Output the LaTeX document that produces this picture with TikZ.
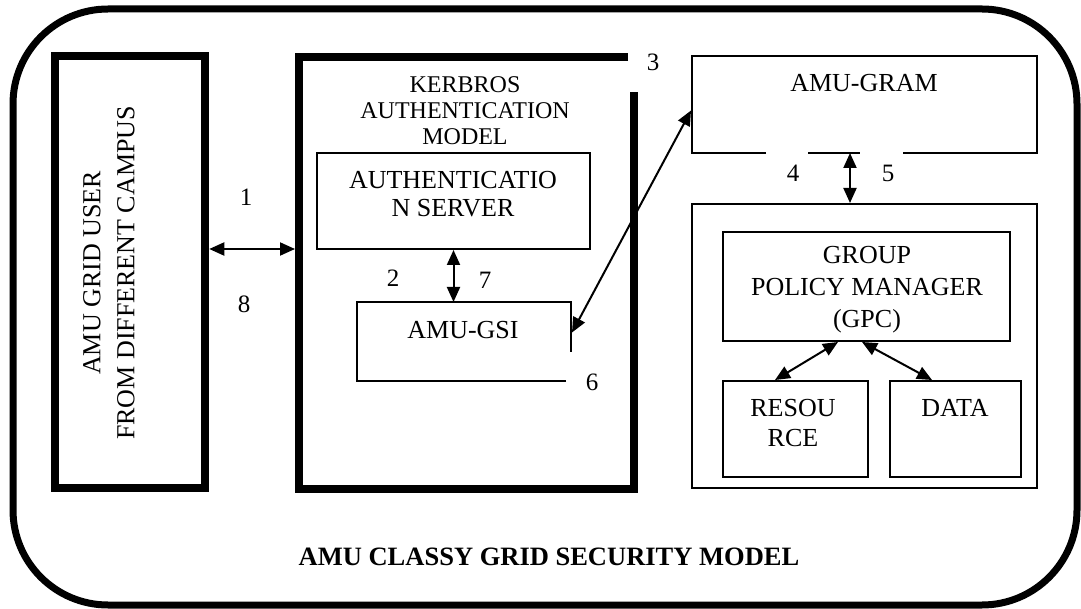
\documentclass[tikz,border=0pt]{standalone}
\usepackage{fontspec}
\setmainfont{Liberation Serif}
\usetikzlibrary{arrows.meta,calc}
\begin{document}
\begin{tikzpicture}[x=1pt,y=-1pt,
  thickbox/.style={draw,line width=8pt,rectangle,inner sep=0pt,outer sep=4pt},
  thinbox/.style={draw,line width=2pt,rectangle,inner sep=0pt,outer sep=1pt},
  ghost/.style={rectangle,inner sep=0pt,outer sep=0pt},
  boxtxt/.style={font=\fontsize{26}{30}\selectfont,align=center,inner sep=0pt},
  numtxt/.style={font=\fontsize{25}{30}\selectfont,inner sep=0pt},
  conn/.style={line width=2pt,{Triangle[length=15pt,width=13pt]}-{Triangle[length=15pt,width=13pt]}}
]
\useasboundingbox (0,0) rectangle (1081,609);
% outer frame
\draw[line width=7pt,rounded corners=95pt] (13,9) rectangle (1077,605);

% left user box
\node[thickbox,minimum width=150.5pt,minimum height=432pt] (user) at (130,272) {};
\node[boxtxt,rotate=90,font=\fontsize{26}{34}\selectfont] (usertxt) at (109,273) {AMU GRID USER\\FROM DIFFERENT CAMPUS};

% Kerberos box (open at top right)
\node[ghost,minimum width=335pt,minimum height=432pt] (kerb) at (466.5,273) {};
\draw[line width=8pt] ($(kerb.north west)+(329,0)$) -- (kerb.north west) -- (kerb.south west) -- (kerb.south east) -- ($(kerb.north east)+(0,35)$);
\node[boxtxt,font=\fontsize{24}{26}\selectfont] (kerbtxt) at (465,111) {KERBROS\\AUTHENTICATION\\MODEL};
\node[numtxt] (n3) at (653,62) {3};

% Authentication server
\node[thinbox,minimum width=273pt,minimum height=96pt] (as) at (453.5,201) {};
\node[boxtxt,font=\fontsize{26}{28}\selectfont] (astxt) at (453,194) {AUTHENTICATIO\\N SERVER};

% AMU-GSI (partial border)
\node[ghost,minimum width=214pt,minimum height=79pt] (gsi) at (464,341.5) {};
\draw[line width=2pt] ($(gsi.south west)+(209,0)$) -- (gsi.south west) -- (gsi.north west) -- (gsi.north east) -- ($(gsi.north east)+(0,50)$);
\node[boxtxt] (gsitxt) at (463,330) {AMU-GSI};
\node[numtxt] (n6) at (592,382) {6};

% AMU-GRAM (gaps in bottom)
\node[ghost,minimum width=345pt,minimum height=97pt] (gram) at (864.5,104.5) {};
\draw[line width=2pt] ($(gram.south west)+(74,0)$) -- (gram.south west) -- (gram.north west) -- (gram.north east) -- (gram.south east) -- ($(gram.south east)+(-134,0)$);
\draw[line width=2pt] ($(gram.south west)+(116,0)$) -- ($(gram.south west)+(168,0)$);
\node[boxtxt] (gramtxt) at (864,83) {AMU-GRAM};
\node[numtxt] (n4) at (793,173) {4};
\node[numtxt] (n5) at (888,173) {5};

% right lower container
\node[thinbox,minimum width=345pt,minimum height=284pt] (rbox) at (864.5,346) {};
\node[thinbox,minimum width=287pt,minimum height=109pt] (gpm) at (866.5,286.5) {};
\node[boxtxt,font=\fontsize{26}{32}\selectfont] (gpmtxt) at (867,290) {GROUP\\POLICY MANAGER\\(GPC)};
\node[thinbox,minimum width=145pt,minimum height=96pt] (res) at (795.5,429) {};
\node[boxtxt] (restxt) at (793,423) {RESOU\\RCE};
\node[thinbox,minimum width=131pt,minimum height=96pt] (data) at (955.5,429) {};
\node[boxtxt] (datatxt) at (955,408) {DATA};

% connectors
\coordinate (a18) at (0,249);
\coordinate (kw) at ($(kerb.west)+(-4,0)$);
\draw[conn] (user.east |- a18) -- (kw |- a18);
\node[numtxt] (n1) at (246,197) {1};
\node[numtxt] (n8) at (244,304) {8};

\draw[conn] (as.south) -- (as.south |- gsi.north);
\node[numtxt] (n2) at (393,278) {2};
\node[numtxt] (n7) at (485,280) {7};

\draw[conn] ($(gsi.east)+(1,-9)$) -- ($(gram.west)+(-1,6)$);

\coordinate (g45) at ($(gram.south)+(-14.5,0)$);
\draw[conn] (g45) -- (g45 |- rbox.north);

\draw[conn] ($(gpm.south)+(-28.5,0)$) -- ($(res.north)+(-20.5,0)$);
\draw[conn] ($(gpm.south)+(-4.5,0)$) -- ($(data.north)+(-23.5,0)$);

% title
\node[font=\fontsize{26.5}{30}\selectfont\bfseries,inner sep=0pt] (title) at (549,557) {AMU CLASSY GRID SECURITY MODEL};
\end{tikzpicture}
\end{document}
